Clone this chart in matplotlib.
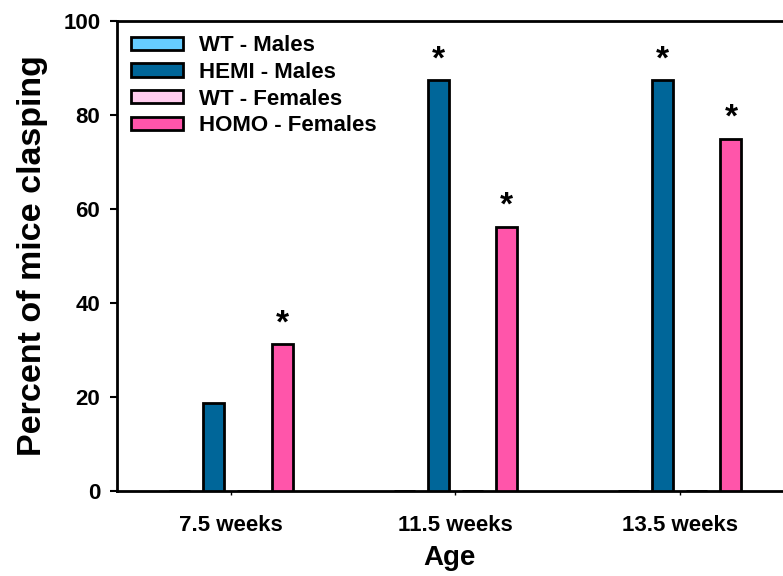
import numpy as np
import matplotlib
matplotlib.use("Agg")
import matplotlib.pyplot as plt

plt.rcParams['font.family'] = ['Liberation Sans', 'DejaVu Sans']
plt.rcParams['font.weight'] = 'bold'

# percent of mice clasping per age group
ages = ['7.5 weeks', '11.5 weeks', '13.5 weeks']
wt_males = [0, 0, 0]
hemi_males = [18.75, 87.5, 87.5]
wt_females = [0, 0, 0]
homo_females = [31.25, 56.25, 75.0]
# significance markers (series index, age index)
stars = [(1, 1), (1, 2), (3, 0), (3, 1), (3, 2)]

labels = ['WT - Males', 'HEMI - Males', 'WT - Females', 'HOMO - Females']
colors = ['#66ccff', '#006699', '#ffccee', '#ff55aa']
series = [wt_males, hemi_males, wt_females, homo_females]

fig = plt.figure(figsize=(7.83, 5.76), dpi=100)
ax = fig.add_axes([0.1494, 0.1476, 0.8506, 0.8159])

x = np.arange(len(ages))
slot = 0.152
width = 0.094
offsets = (np.arange(4) - 1.5) * slot

for vals, off, col, lab in zip(series, offsets, colors, labels):
    ax.bar(x + off, vals, width, color=col, edgecolor='black',
           linewidth=2, label=lab, zorder=3)

for si, ai in stars:
    ax.text(x[ai] + offsets[si], series[si][ai] + 1.0, '*', ha='center',
            va='bottom', fontsize=24, fontweight='bold')

ax.set_xlim(-0.508, 2.46)
ax.set_ylim(0, 100)
ax.set_yticks([0, 20, 40, 60, 80, 100])
ax.set_xticks(x)
ax.set_xticklabels(ages)

for side in ['left', 'bottom', 'top']:
    ax.spines[side].set_linewidth(2)
ax.spines['right'].set_visible(False)
ax.tick_params(axis='y', direction='out', length=5, width=1.5, labelsize=16,
               pad=7)
ax.tick_params(axis='x', direction='out', length=3, width=1, labelsize=16,
               pad=14)

ax.set_ylabel('Percent of mice clasping', fontsize=24.5, fontweight='bold',
              labelpad=11)
ax.set_xlabel('Age', fontsize=20, fontweight='bold', labelpad=7)

leg = ax.legend(loc='upper left', frameon=False, fontsize=16,
                handlelength=2.3, handleheight=0.55, labelspacing=0.25,
                borderaxespad=0.25, handletextpad=0.75)

fig.savefig('out.png', dpi=100)
